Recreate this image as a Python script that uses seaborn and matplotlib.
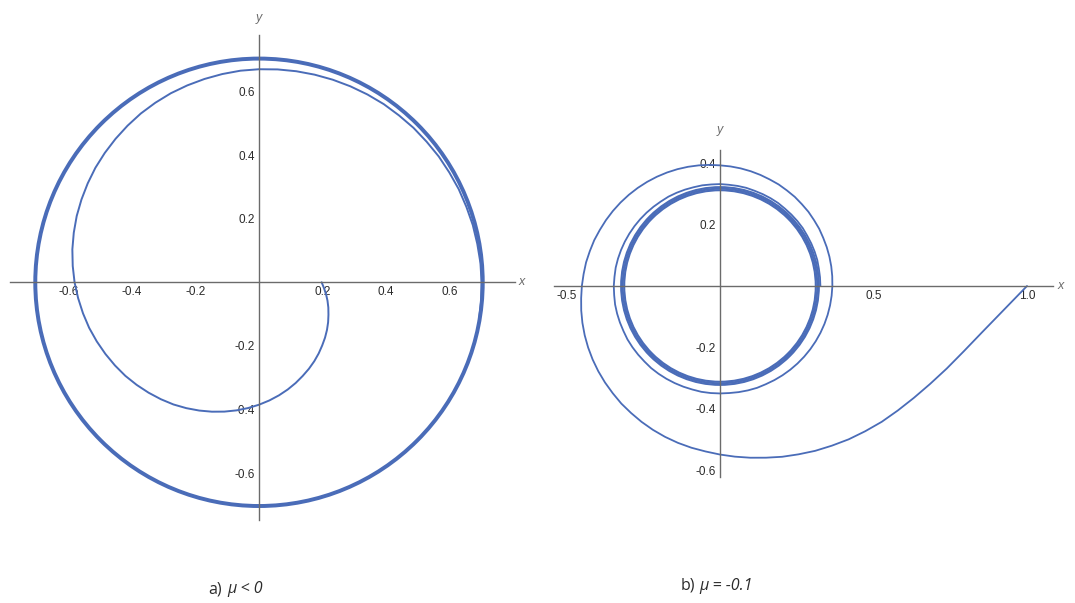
import matplotlib
matplotlib.use("Agg")
import matplotlib.pyplot as plt
from matplotlib.patches import Circle
import numpy as np
import seaborn as sns

# Trajectories in polar form: angle (deg, clockwise
# so decreasing, every 5 deg) and distance from the origin at that angle.

# ---- panel a): mu < 0, trajectory spirals out to the limit cycle ----
angle_a = list(range(0, -371, -5))
radius_a = [0.197, 0.205, 0.214, 0.223, 0.232, 0.241, 0.251, 0.261, 0.271, 0.281,
            0.292, 0.303, 0.314, 0.325, 0.337, 0.349, 0.361, 0.373, 0.385, 0.397,
            0.409, 0.421, 0.433, 0.445, 0.457, 0.469, 0.480, 0.491, 0.502, 0.513,
            0.523, 0.533, 0.543, 0.553, 0.562, 0.571, 0.580, 0.588, 0.596, 0.603,
            0.610, 0.616, 0.622, 0.628, 0.633, 0.638, 0.643, 0.648, 0.652, 0.656,
            0.659, 0.662, 0.665, 0.668, 0.670, 0.672, 0.674, 0.676, 0.678, 0.680,
            0.682, 0.684, 0.685, 0.687, 0.688, 0.690, 0.691, 0.693, 0.694, 0.696,
            0.697, 0.699, 0.700, 0.701, 0.702]
cycle_a_radii = [0.701, 0.706]

# ---- panel b): mu = -0.1, trajectory spirals in to the limit cycle ----
angle_b = list(range(0, -721, -5))
radius_b = [1.000, 0.925, 0.867, 0.822, 0.786, 0.755, 0.729, 0.707, 0.688, 0.669,
            0.652, 0.635, 0.620, 0.605, 0.592, 0.579, 0.568, 0.558, 0.549, 0.541,
            0.535, 0.529, 0.523, 0.517, 0.511, 0.505, 0.500, 0.494, 0.489, 0.484,
            0.479, 0.474, 0.469, 0.464, 0.459, 0.454, 0.450, 0.446, 0.443, 0.439,
            0.436, 0.432, 0.429, 0.426, 0.423, 0.420, 0.417, 0.414, 0.411, 0.408,
            0.405, 0.402, 0.399, 0.396, 0.393, 0.391, 0.389, 0.387, 0.385, 0.383,
            0.382, 0.380, 0.379, 0.377, 0.376, 0.374, 0.373, 0.371, 0.370, 0.369,
            0.368, 0.367, 0.366, 0.365, 0.364, 0.363, 0.362, 0.361, 0.360, 0.359,
            0.358, 0.357, 0.356, 0.355, 0.354, 0.353, 0.353, 0.352, 0.351, 0.350,
            0.350, 0.350, 0.350, 0.349, 0.349, 0.349, 0.349, 0.349, 0.349, 0.348,
            0.348, 0.348, 0.348, 0.347, 0.347, 0.347, 0.347, 0.346, 0.346, 0.345,
            0.345, 0.344, 0.343, 0.342, 0.341, 0.340, 0.339, 0.338, 0.337, 0.336,
            0.336, 0.335, 0.334, 0.333, 0.333, 0.332, 0.332, 0.331, 0.331, 0.331,
            0.330, 0.330, 0.330, 0.330, 0.329, 0.329, 0.329, 0.329, 0.328, 0.328,
            0.328, 0.328, 0.327, 0.327, 0.327]
cycle_b_radii = [0.322, 0.317, 0.312]

# ---- tick labels ----
ticks_a = [-0.6, -0.4, -0.2, 0.2, 0.4, 0.6]
labels_a = ["-0.6", "-0.4", "-0.2", "0.2", "0.4", "0.6"]
xticks_b = [-0.5, 0.5, 1.0]
xlabels_b = ["-0.5", "0.5", "1.0"]
yticks_b = [-0.6, -0.4, -0.2, 0.2, 0.4]
ylabels_b = ["-0.6", "-0.4", "-0.2", "0.2", "0.4"]

caption_tags = ["a)", "b)"]
caption_texts = ["\u03bc < 0", "\u03bc = -0.1"]

sns.set_style("white")
plt.rcParams["font.family"] = ["Liberation Sans", "DejaVu Sans"]

CURVE = "#4a6cb8"
AXIS = "#6b6b6b"
TEXT = "#2b2b2b"

fig = plt.figure(figsize=(10.75, 6.03), dpi=100)
W, H = 1075, 603


def to_xy(angles, radii):
    t = np.radians(angles)
    r = np.asarray(radii)
    return r * np.cos(t), r * np.sin(t)


def make_axes(x0, x1, y0, y1, ox, oy, scale):
    """Axes whose data origin sits at pixel (ox, oy) with `scale` px per unit."""
    left = ox + x0 * scale
    right = ox + x1 * scale
    top = oy - y1 * scale
    bottom = oy - y0 * scale
    ax = fig.add_axes([left / W, 1 - bottom / H, (right - left) / W, (bottom - top) / H])
    ax.set_xlim(x0, x1)
    ax.set_ylim(y0, y1)
    ax.patch.set_alpha(0)
    for side in ["top", "right"]:
        ax.spines[side].set_visible(False)
    for side in ["left", "bottom"]:
        ax.spines[side].set_position(("data", 0))
        ax.spines[side].set_color(AXIS)
        ax.spines[side].set_linewidth(1.0)
    ax.tick_params(which="both", direction="in", color=AXIS, width=0.8)
    ax.tick_params(which="major", length=3.5, labelsize=8.5, labelcolor=TEXT, pad=3)
    ax.tick_params(which="minor", length=2.2)
    return ax


def axis_names(ax, xpos, ypos):
    ax.text(xpos, 0, "x", style="italic", color=AXIS, fontsize=9,
            ha="left", va="center", clip_on=False)
    ax.text(0, ypos, "y", style="italic", color=AXIS, fontsize=9,
            ha="center", va="center", clip_on=False)


# panel a
ax1 = make_axes(-0.783, 0.805, -0.748, 0.777, 259, 282.3, 318)
xa, ya = to_xy(angle_a, radius_a)
sns.lineplot(x=xa, y=ya, sort=False, estimator=None, color=CURVE, lw=1.4,
             solid_joinstyle="round", ax=ax1)
for r in cycle_a_radii:
    ax1.add_patch(Circle((0, 0), r, fill=False, ec=CURVE, lw=1.7))
ax1.set_xticks(ticks_a, labels_a)
ax1.set_yticks(ticks_a, labels_a)
ax1.set_xticks([i * 0.05 for i in range(-15, 17)], minor=True)
ax1.set_yticks([i * 0.05 for i in range(-14, 16)], minor=True)
axis_names(ax1, 0.815, 0.83)

# panel b
ax2 = make_axes(-0.54, 1.086, -0.622, 0.443, 720, 286, 307)
xb, yb = to_xy(angle_b, radius_b)
sns.lineplot(x=xb, y=yb, sort=False, estimator=None, color=CURVE, lw=1.3,
             solid_joinstyle="round", ax=ax2)
for r in cycle_b_radii:
    ax2.add_patch(Circle((0, 0), r, fill=False, ec=CURVE, lw=1.5))
ax2.set_xticks(xticks_b, xlabels_b)
ax2.set_yticks(yticks_b, ylabels_b)
ax2.set_xticks([i * 0.1 for i in range(-5, 11)], minor=True)
ax2.set_yticks([i * 0.05 for i in range(-12, 9)], minor=True)
axis_names(ax2, 1.10, 0.508)

# captions below the panels: tag upright, condition in italics
cap_font = ["Open Sans", "DejaVu Sans"]
for tag, txt, xt, xc, yb_ in zip(caption_tags, caption_texts, [208, 681], [227, 699], [593, 590]):
    fig.text(xt / W, 1 - yb_ / H, tag, fontsize=11.5, color=TEXT, family=cap_font,
             ha="left", va="baseline")
    fig.text(xc / W, 1 - yb_ / H, txt, fontsize=11.5, color=TEXT, family=cap_font,
             style="italic", ha="left", va="baseline")

fig.savefig("out.png", dpi=100)
